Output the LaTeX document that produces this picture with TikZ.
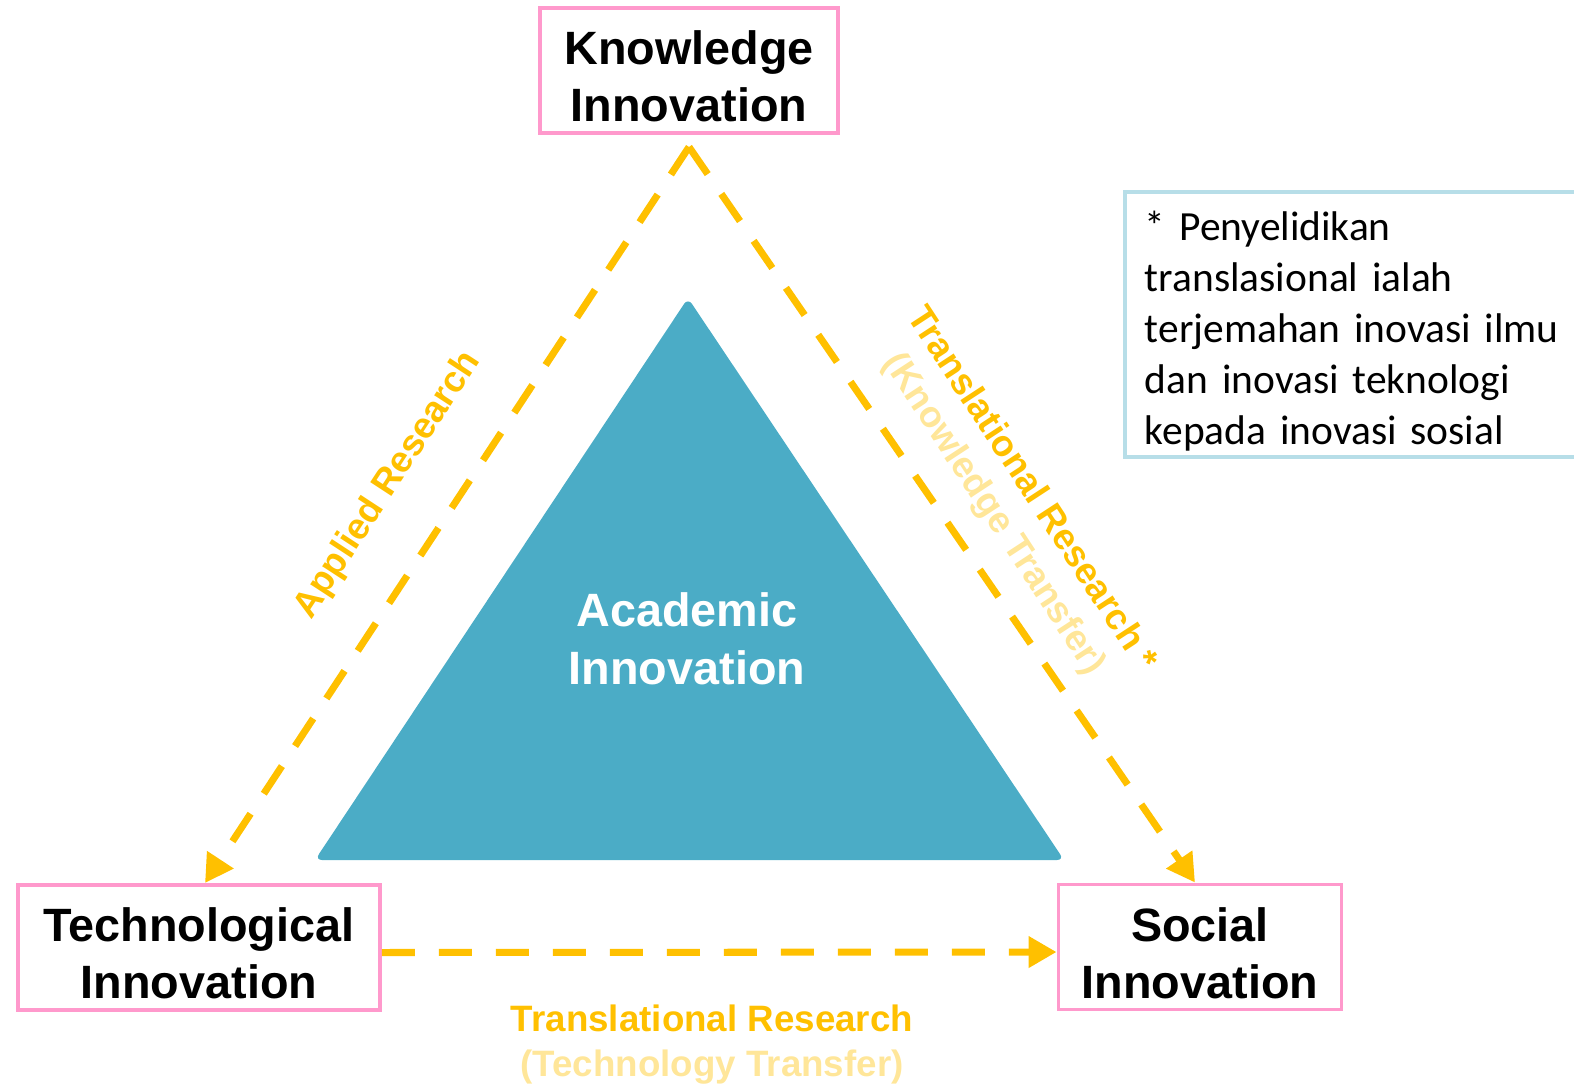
\documentclass[tikz,border=0pt]{standalone}
\usepackage{fontspec}
\setmainfont{Liberation Sans}
\newfontfamily\notefont{Carlito}
\usetikzlibrary{arrows.meta}
\usetikzlibrary{calc}
\definecolor{boxpink}{RGB}{255,153,204}
\definecolor{noteblue}{RGB}{183,222,232}
\definecolor{acadblue}{RGB}{75,172,198}
\definecolor{flowgold}{RGB}{255,192,0}
\definecolor{flowpale}{RGB}{255,230,153}

\begin{document}
\begin{tikzpicture}[
  innobox/.style={draw=boxpink, line width=1.1pt, fill=white, align=center, inner sep=0pt,
    minimum height=1.25cm, text height=1.03cm, font=\fontsize{13.3}{16.2}\selectfont\bfseries},
  flow/.style={flowgold, line width=2pt, dash pattern=on 0.33cm off 0.24cm,
    -{Triangle[length=0.28cm, width=0.3cm]}},
  flowlabel/.style={text=flowgold, align=center, inner sep=0pt,
    font=\fontsize{10.45}{12.8}\selectfont\bfseries}
]
\useasboundingbox (0,0) rectangle (15.74,10.84);

% the three innovations
\node[innobox, minimum width=2.98cm] (kn) at (6.89,10.135) {Knowledge\\Innovation};
\node[innobox, minimum width=3.62cm] (tech) at (1.99,1.365) {Technological\\Innovation};
\node[innobox, minimum width=2.83cm] (soc) at (12.0,1.37) {Social\\Innovation};

% academic core
\fill[acadblue, rounded corners=2pt] (6.88,7.86) -- (10.64,2.24) -- (3.15,2.24) -- cycle;
\node[text=white, align=center, font=\fontsize{13.3}{16.4}\selectfont\bfseries] (acad) at (6.87,4.45) {Academic\\Innovation};

% research flows
\coordinate (apex) at ([yshift=-0.12cm]kn.south);
\draw[flow] (apex) -- ([xshift=0.06cm]tech.north);
\draw[flow] (apex) -- ([xshift=-0.05cm]soc.north);
\draw[flow] ([yshift=-0.05cm]tech.east) -- ([yshift=-0.05cm]soc.west);

\node[flowlabel, rotate=56.8] (applab) at (3.88,5.99) {Applied Research};
\node[flowlabel, rotate=-56.8] (kflab) at (10.12,5.82) {Translational Research *\\\color{flowpale}(Knowledge Transfer)};
\node[flowlabel] (tflab) at (7.12,0.39) {Translational Research\\\color{flowpale}(Technology Transfer)};

% note
\node[draw=noteblue, line width=1.1pt, anchor=north west, text width=4.27cm, inner xsep=0.2cm, inner ysep=0.04cm,
  minimum height=2.65cm, text height=0.42cm, align=left, font=\notefont\fontsize{11.8}{14.5}\selectfont] (note) at (11.23,8.94)
  {* Penyelidikan\\translasional ialah\\terjemahan inovasi ilmu\\dan inovasi teknologi\\kepada inovasi sosial};
\end{tikzpicture}
\end{document}
